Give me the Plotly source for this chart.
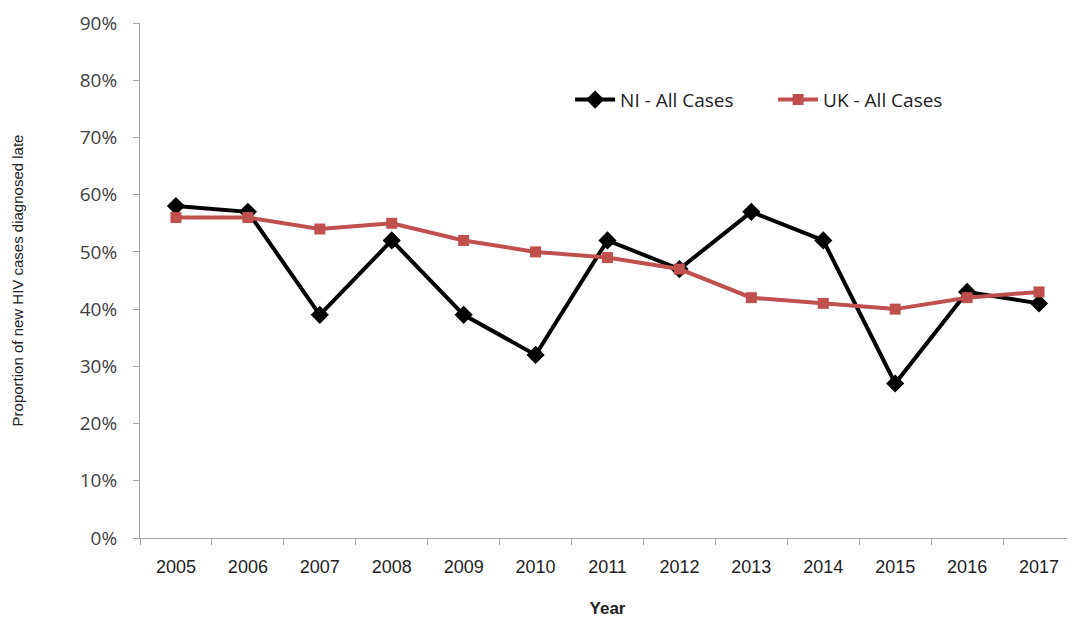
import plotly.graph_objects as go

years = ["2005", "2006", "2007", "2008", "2009", "2010", "2011", "2012", "2013", "2014", "2015", "2016", "2017"]
ni_all = [58, 57, 39, 52, 39, 32, 52, 47, 57, 52, 27, 43, 41]
uk_all = [56, 56, 54, 55, 52, 50, 49, 47, 42, 41, 40, 42, 43]
y_ticks = [0, 10, 20, 30, 40, 50, 60, 70, 80, 90]
y_labels = [f"{v}%" for v in y_ticks]

fig = go.Figure()
fig.add_trace(go.Scatter(
    x=years, y=ni_all, name="NI - All Cases", mode="lines+markers",
    line=dict(color="black", width=4),
    marker=dict(symbol="diamond", size=14, color="black"),
))
fig.add_trace(go.Scatter(
    x=years, y=uk_all, name="UK - All Cases", mode="lines+markers",
    line=dict(color="#C0504D", width=4),
    marker=dict(symbol="square", size=11, color="#C0504D"),
))

fig.update_layout(
    width=1067, height=610,
    margin=dict(l=132, r=0, t=15, b=77),
    paper_bgcolor="white", plot_bgcolor="white",
    font=dict(family="Liberation Sans, Arial", color="#404040"),
    showlegend=True,
    legend=dict(
        orientation="h", x=0.46, y=0.851, xanchor="left", yanchor="middle",
        font=dict(size=19, family="Open Sans, Liberation Sans", color="#222"),
        bgcolor="rgba(0,0,0,0)", itemwidth=40, tracegroupgap=0,
        entrywidth=148, entrywidthmode="pixels",
    ),
    xaxis=dict(
        type="category", range=[-0.5, 12.5],
        showline=True, linecolor="#a6a6a6", linewidth=1,
        ticks="outside", tickson="boundaries", ticklen=6, tickcolor="#a6a6a6",
        showgrid=False, zeroline=False,
        tickfont=dict(size=18, family="Liberation Sans Narrow, Liberation Sans", color="#222"),
        ticklabelstandoff=12,
        title=dict(text="<b>Year</b>", font=dict(size=17, family="Liberation Sans Narrow, Liberation Sans", color="#222"), standoff=30),
    ),
    yaxis=dict(
        range=[0, 90], tickvals=y_ticks, ticktext=y_labels,
        showline=True, linecolor="#a6a6a6", linewidth=1,
        ticks="outside", ticklen=6, tickcolor="#a6a6a6",
        showgrid=False, zeroline=False,
        tickfont=dict(size=19, family="Open Sans, Liberation Sans", color="#404040"),
        ticklabelstandoff=12,
        title=dict(text="Proportion of new HIV cases diagnosed late", font=dict(size=15, family="Liberation Sans", color="#222"), standoff=52),
    ),
)

fig.write_html("out.html")
